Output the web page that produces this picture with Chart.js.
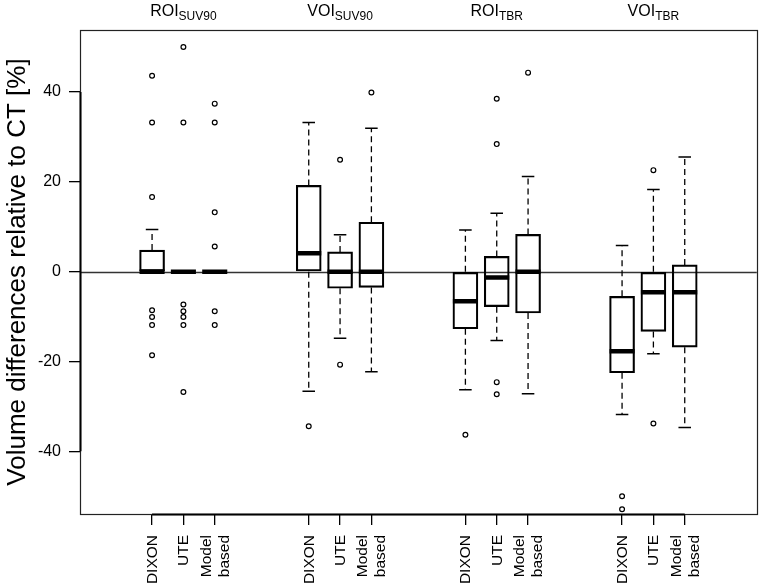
<!DOCTYPE html>
<html><head><meta charset="utf-8">
<script src="https://cdn.jsdelivr.net/npm/chart.js@4.4.1/dist/chart.umd.min.js"></script>
<style>html,body{margin:0;padding:0;background:#fff;}</style>
</head><body>
<canvas id="c" width="762" height="586"></canvas>
<script>
// ---- data ----
const groupNames = ['ROI', 'VOI', 'ROI', 'VOI'];
const groupSubs  = ['SUV90', 'SUV90', 'TBR', 'TBR'];
const methods    = [['DIXON'], ['UTE'], ['Model', 'based']];
const yTickValues = [-40, -20, 0, 20, 40];
const yTitle = 'Volume differences relative to CT [%]';

// order: ROI_SUV90 (DIXON, UTE, Model based), VOI_SUV90 (...), ROI_TBR (...), VOI_TBR (...)
const whiskerHigh = [9.4, 0, 0,   33.2, 8.2, 31.9,   9.3, 13.0, 21.2,   5.8, 18.3, 25.5];
const q3          = [4.8, 0, 0,   19.2, 4.4, 11.0,   0, 3.4, 8.3,       -5.5, 0, 1.5];
const medians     = [0, 0, 0,     4.1, 0, 0,         -6.6, -1.3, 0,     -17.7, -4.6, -4.6];
const q1          = [0, 0, 0,     0, -3.7, -3.5,     -12.7, -7.8, -9.2, -22.5, -13.3, -16.8];
const whiskerLow  = [0, 0, 0,     -26.6, -14.8, -22.3, -26.3, -15.3, -27.2, -31.8, -18.3, -34.7];
const outliers = [
  [43.6, 33.2, 16.6, -8.6, -10.1, -11.9, -18.6],
  [50.0, 33.2, -7.3, -8.8, -10.1, -11.9, -26.8],
  [37.4, 33.2, 13.2, 5.6, -8.8, -11.9],
  [-34.4],
  [24.9, -20.7],
  [39.9],
  [-36.3],
  [38.5, 28.4, -24.6, -27.3],
  [44.3],
  [-50.0, -52.9],
  [22.6, -33.8],
  []
];

// ---- layout helpers ----
const FONT = '"Liberation Sans", Arial, Helvetica, sans-serif';
const pos = medians.map((_, i) => Math.floor(i / 3) * 5 + (i % 3) + 1);
const BOX_HALF = 0.4, STAPLE_HALF = 0.2;

const boxData = pos.map((p, i) => ({ x: p, y: [q1[i], q3[i]] }));
const whiskerData = [];
pos.forEach((p, i) => {
  if (whiskerHigh[i] > q3[i]) whiskerData.push({x: p, y: q3[i]}, {x: p, y: whiskerHigh[i]}, {x: p, y: null});
  if (whiskerLow[i] < q1[i]) whiskerData.push({x: p, y: q1[i]}, {x: p, y: whiskerLow[i]}, {x: p, y: null});
});
const stapleData = [];
pos.forEach((p, i) => {
  stapleData.push({x: p - STAPLE_HALF, y: whiskerHigh[i]}, {x: p + STAPLE_HALF, y: whiskerHigh[i]}, {x: p, y: null});
  stapleData.push({x: p - STAPLE_HALF, y: whiskerLow[i]}, {x: p + STAPLE_HALF, y: whiskerLow[i]}, {x: p, y: null});
});
const medianData = [];
pos.forEach((p, i) => {
  medianData.push({x: p - BOX_HALF, y: medians[i]}, {x: p + BOX_HALF, y: medians[i]}, {x: p, y: null});
});
const outlierData = [];
pos.forEach((p, i) => outliers[i].forEach(v => outlierData.push({x: p, y: v})));

const extras = {
  id: 'extras',
  beforeDatasetsDraw(chart) {
    const {ctx, chartArea: a, scales: {y}} = chart;
    const y0 = Math.round(y.getPixelForValue(0)) + 0.5;
    ctx.save();
    ctx.strokeStyle = '#333';
    ctx.lineWidth = 1.4;
    ctx.beginPath(); ctx.moveTo(a.left, y0); ctx.lineTo(a.right, y0); ctx.stroke();
    ctx.restore();
  },
  afterDraw(chart) {
    const {ctx, chartArea: a, scales: {x, y}} = chart;
    ctx.save();
    ctx.strokeStyle = '#222';
    ctx.lineWidth = 1.2;
    ctx.strokeRect(Math.round(a.left) + 0.5, Math.round(a.top) + 0.5, Math.round(a.right - a.left), Math.round(a.bottom - a.top));
    // axis lines (R axis() segments)
    ctx.strokeStyle = '#000';
    ctx.lineWidth = 2;
    ctx.beginPath();
    ctx.moveTo(Math.round(a.left) + 0.5, y.getPixelForValue(yTickValues[0]));
    ctx.lineTo(Math.round(a.left) + 0.5, y.getPixelForValue(yTickValues[yTickValues.length - 1]));
    ctx.moveTo(x.getPixelForValue(pos[0]), Math.round(a.bottom) + 0.5);
    ctx.lineTo(x.getPixelForValue(pos[pos.length - 1]), Math.round(a.bottom) + 0.5);
    ctx.stroke();
    // x category labels, perpendicular to the axis
    ctx.fillStyle = '#000';
    ctx.font = '15.5px ' + FONT;
    ctx.textAlign = 'right';
    ctx.textBaseline = 'middle';
    const lh = 18;
    pos.forEach((p, i) => {
      const lines = methods[i % 3];
      const px = x.getPixelForValue(p);
      ctx.save();
      ctx.translate(px + 0.5, a.bottom + 21);
      ctx.rotate(-Math.PI / 2);
      lines.forEach((t, j) => ctx.fillText(t, 0, (j - (lines.length - 1) / 2) * lh));
      ctx.restore();
    });
    // group titles
    ctx.textBaseline = 'alphabetic';
    ctx.textAlign = 'left';
    groupNames.forEach((name, g) => {
      const cx = x.getPixelForValue(g * 5 + 2);
      ctx.font = '16px ' + FONT;
      const w1 = ctx.measureText(name).width;
      ctx.font = '12px ' + FONT;
      const w2 = ctx.measureText(groupSubs[g]).width;
      const x0 = cx - (w1 + w2) / 2;
      ctx.font = '16px ' + FONT;
      ctx.fillText(name, x0, 16);
      ctx.font = '12px ' + FONT;
      ctx.fillText(groupSubs[g], x0 + w1, 19.5);
    });
    ctx.restore();
  }
};

new Chart(document.getElementById('c'), {
  type: 'scatter',
  data: {
    datasets: [
      { type: 'bar', data: boxData, backgroundColor: 'rgba(0,0,0,0)', borderColor: '#000',
        borderWidth: 1.5, borderSkipped: false, barThickness: 25, order: 5 },
      { type: 'line', data: whiskerData, borderColor: '#000', borderWidth: 1.3, borderDash: [6, 4],
        pointRadius: 0, spanGaps: false, borderCapStyle: 'butt', order: 4 },
      { type: 'line', data: stapleData, borderColor: '#000', borderWidth: 1.5,
        pointRadius: 0, spanGaps: false, order: 3 },
      { type: 'line', data: medianData, borderColor: '#000', borderWidth: 4.5, borderCapStyle: 'butt',
        pointRadius: 0, spanGaps: false, order: 2 },
      { type: 'scatter', data: outlierData, pointRadius: 2.4, pointBorderWidth: 1.2,
        pointBackgroundColor: '#fff', pointBorderColor: '#000', order: 1 }
    ]
  },
  options: {
    responsive: false,
    animation: false,
    events: [],
    devicePixelRatio: 1,
    layout: { padding: { top: 30, right: 2.5, left: 0, bottom: 0 } },
    plugins: { legend: { display: false }, tooltip: { enabled: false } },
    scales: {
      x: {
        type: 'linear', min: -1.3, max: 20.3, offset: false,
        afterBuildTicks: s => { s.ticks = pos.map(v => ({ value: v })); },
        afterFit: s => { s.height = 72; },
        ticks: { display: false, autoSkip: false },
        grid: { offset: false, drawOnChartArea: false, drawTicks: true, tickLength: 11, color: '#000', lineWidth: 1.3 },
        border: { display: false }
      },
      y: {
        type: 'linear', min: -53.95, max: 53.8,
        afterBuildTicks: s => { s.ticks = yTickValues.map(v => ({ value: v })); },
        afterFit: s => { s.width = 80; },
        ticks: { color: '#000', font: { family: FONT, size: 16 }, padding: 8 },
        grid: { drawOnChartArea: false, drawTicks: true, tickLength: 11, color: '#000', lineWidth: 1.3 },
        border: { display: false },
        title: { display: true, text: yTitle, color: '#000', font: { family: FONT, size: 26 }, padding: { top: 2, bottom: 0 } }
      }
    }
  },
  plugins: [extras]
});
</script>
</body></html>
